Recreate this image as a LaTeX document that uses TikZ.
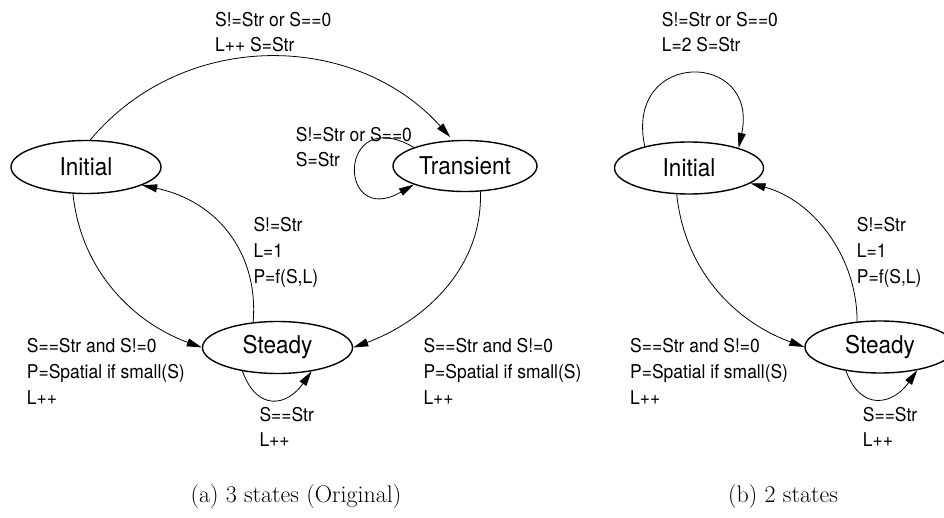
\documentclass[tikz,border=0pt]{standalone}
\usepackage{fontspec}
\newfontfamily\helv[FakeStretch=0.92]{TeX Gyre Heros}
\usetikzlibrary{arrows.meta,shapes.geometric}

\begin{document}
\begin{tikzpicture}[x=1pt,y=1pt,
  state/.style={draw, ellipse, line width=1.4pt, minimum width=150pt,
    minimum height=52pt, inner sep=0pt,
    font=\helv\fontsize{24.5}{29}\selectfont},
  edge/.style={draw, line width=0.8pt,
    -{Triangle[length=15pt,width=8pt]}},
  lbl/.style={anchor=base west, inner sep=0pt,
    font=\helv\fontsize{19}{26}\selectfont},
  lbltwo/.style={anchor=base west, inner sep=0pt,
    font=\helv\fontsize{19}{25}\selectfont},
  caption/.style={anchor=base, inner sep=0pt,
    font=\fontsize{24}{29}\selectfont}]
\useasboundingbox (0,0) rectangle (944,-518);

% ---------- (a) three states ----------
\node[state, minimum height=53pt] (Ia) at (86,-167) {\makebox[0pt]{Initial}};
\node[state, minimum width=144pt, minimum height=51pt] (Tr) at (465,-166) {\makebox[0pt]{Transient}};
\node[state] (Sa) at (277.5,-347.5) {\makebox[0pt]{Steady}};

\draw[edge, shorten >=4pt] (Ia.81) .. controls +(50:146) and +(132:146) .. (Tr.115);
\draw[edge] (Tr.160) .. controls +(150:89) and +(210:89) .. (Tr.200);
\draw[edge] (Sa.134) .. controls +(85:66) and +(-12:80) .. (Ia.-18);
\draw[edge] (Ia.-116) .. controls +(-84:80) and +(160:70) .. (Sa.180);
\draw[edge] (Tr.-59) .. controls +(-88:80) and +(20:70) .. (Sa.0);
\draw[edge] (Sa.-146) .. controls +(-70:44) and +(235:42) .. (Sa.-35);

\node[lbltwo] (ta) at (215,-26.5) {\vtop{\hbox{S!=Str or S==0}\hbox{L++ S=Str}}};
\node[lbltwo] (tl) at (295.7,-141.5) {\vtop{\hbox{S!=Str or S==0}\hbox{S=Str}}};
\node[lbl] (sia) at (253.3,-231.7) {\vtop{\hbox{S!=Str}\hbox{L=1}\hbox{P=f(S,L)}}};
\node[lbl] (isa) at (26.7,-352.7) {\vtop{\hbox{S==Str and S!=0}\hbox{P=Spatial if small(S)}\hbox{L++}}};
\node[lbl] (tsa) at (423.3,-352.7) {\vtop{\hbox{S==Str and S!=0}\hbox{P=Spatial if small(S)}\hbox{L++}}};
\node[lbltwo] (ssa) at (259.3,-421.7) {\vtop{\hbox{S==Str}\hbox{L++}}};

\node[caption] (capa) at (296,-502) {(a) 3 states (Original)};

% ---------- (b) two states ----------
\node[state, minimum width=149pt] (Ib) at (689,-168) {\makebox[0pt]{Initial}};
\node[state] (Sb) at (880,-347) {\makebox[0pt]{Steady}};

\draw[edge] (Ib.154) .. controls +(102:100) and +(78:100) .. (Ib.22);
\draw[edge] (Sb.132) .. controls +(90:65) and +(-15:65) .. (Ib.-14);
\draw[edge] (Ib.-115) .. controls +(-84:80) and +(160:70) .. (Sb.180);
\draw[edge] (Sb.-145) .. controls +(-70:44) and +(235:42) .. (Sb.-32);

\node[lbltwo] (ib) at (661.7,-26.5) {\vtop{\hbox{S!=Str or S==0}\hbox{L=2 S=Str}}};
\node[lbl] (sib) at (856.7,-231.7) {\vtop{\hbox{S!=Str}\hbox{L=1}\hbox{P=f(S,L)}}};
\node[lbl] (isb) at (630,-352.7) {\vtop{\hbox{S==Str and S!=0}\hbox{P=Spatial if small(S)}\hbox{L++}}};
\node[lbltwo] (ssb) at (862.7,-421.7) {\vtop{\hbox{S==Str}\hbox{L++}}};

\node[caption] (capb) at (783,-502) {(b) 2 states};
\end{tikzpicture}
\end{document}
